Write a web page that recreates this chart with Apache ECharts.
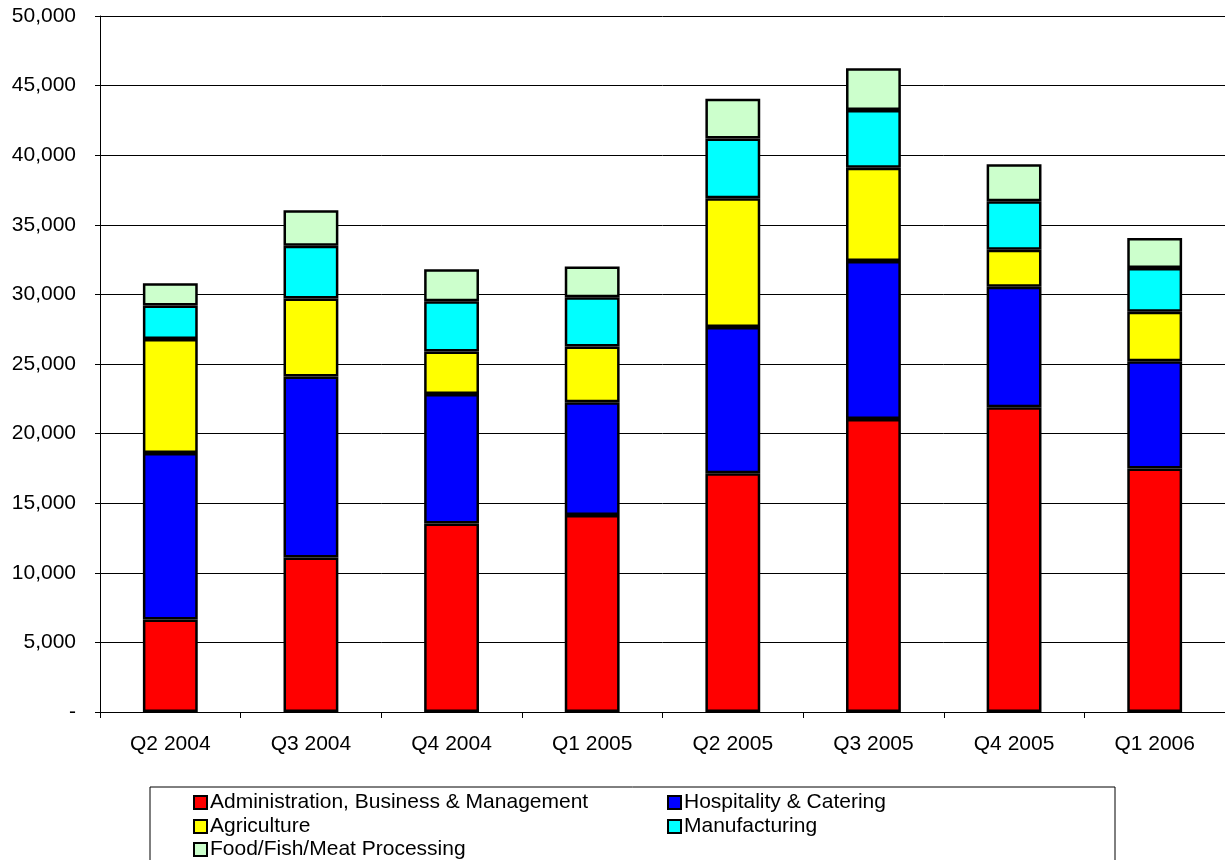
<!DOCTYPE html>
<html>
<head>
<meta charset="utf-8">
<script src="https://cdn.jsdelivr.net/npm/echarts@6/dist/echarts.min.js"></script>
<style>
  html, body { margin: 0; padding: 0; background: #fff; }
  #chart { width: 1225px; height: 860px; }
</style>
</head>
<body>
<div id="chart"></div>
<script>
var quarters = ['Q2 2004', 'Q3 2004', 'Q4 2004', 'Q1 2005', 'Q2 2005', 'Q3 2005', 'Q4 2005', 'Q1 2006'];
var admin       = [6650, 11100, 13550, 14150, 17150, 21050, 21900, 17500];
var hospitality = [11950, 13000, 9300, 8100, 10500, 11350, 8650, 7700];
var agriculture = [8200, 5600, 3050, 4000, 9250, 6700, 2650, 3550];
var manufacture = [2400, 3800, 3600, 3550, 4300, 4150, 3500, 3150];
var foodFish    = [1600, 2550, 2300, 2200, 2850, 3000, 2650, 2150];

var names = ['Administration, Business & Management', 'Hospitality & Catering',
  'Agriculture', 'Manufacturing', 'Food/Fish/Meat Processing'];
var colors = ['#ff0000', '#0000ff', '#ffff00', '#00ffff', '#ccffcc'];
var values = [admin, hospitality, agriculture, manufacture, foodFish];

var font = 'Liberation Sans, Arial, sans-serif';

var series = [];
for (var i = 0; i < names.length; i++) {
  series.push({
    name: names[i],
    type: 'bar',
    stack: 'total',
    barWidth: '39%',
    data: values[i],
    itemStyle: { color: colors[i], borderColor: '#000', borderWidth: 2.5 }
  });
}

// legend laid out in two columns, like the original box
var legendPos = [[188, 787], [662, 787], [188, 811], [662, 811], [188, 834]];
var legends = [];
for (var j = 0; j < names.length; j++) {
  legends.push({
    left: legendPos[j][0], top: legendPos[j][1],
    itemWidth: 13, itemHeight: 13,
    icon: 'rect',
    itemStyle: { borderColor: '#000', borderWidth: 2 },
    textStyle: { fontFamily: font, fontSize: 21, color: '#000', padding: [0, 0, 0, -2] },
    selectedMode: false,
    data: [names[j]]
  });
}

var chart = echarts.init(document.getElementById('chart'));
chart.setOption({
  animation: false,
  color: colors,
  grid: { left: 100, top: 16, width: 1133, bottom: 148, containLabel: false },
  graphic: [{
    type: 'rect',
    shape: { x: 150, y: 787, width: 965, height: 90 },
    style: { fill: '#fff', stroke: '#000', lineWidth: 1 }
  }],
  legend: legends,
  xAxis: {
    type: 'category',
    data: quarters,
    axisLine: { lineStyle: { color: '#000', width: 1 } },
    axisTick: { show: true, length: 6, lineStyle: { color: '#000' } },
    axisLabel: { color: '#000', fontFamily: font, fontSize: 21, margin: 22 }
  },
  yAxis: {
    type: 'value',
    min: 0, max: 50000, interval: 5000,
    axisLine: { show: true, lineStyle: { color: '#000', width: 1 } },
    axisTick: { show: true, length: 5, inside: false, lineStyle: { color: '#000' } },
    splitLine: { lineStyle: { color: '#000', width: 1 } },
    axisLabel: {
      color: '#000', fontFamily: font, fontSize: 21, margin: 24,
      formatter: function (v) { return v === 0 ? '-' : v.toLocaleString('en-US'); }
    }
  },
  series: series
});
</script>
</body>
</html>
